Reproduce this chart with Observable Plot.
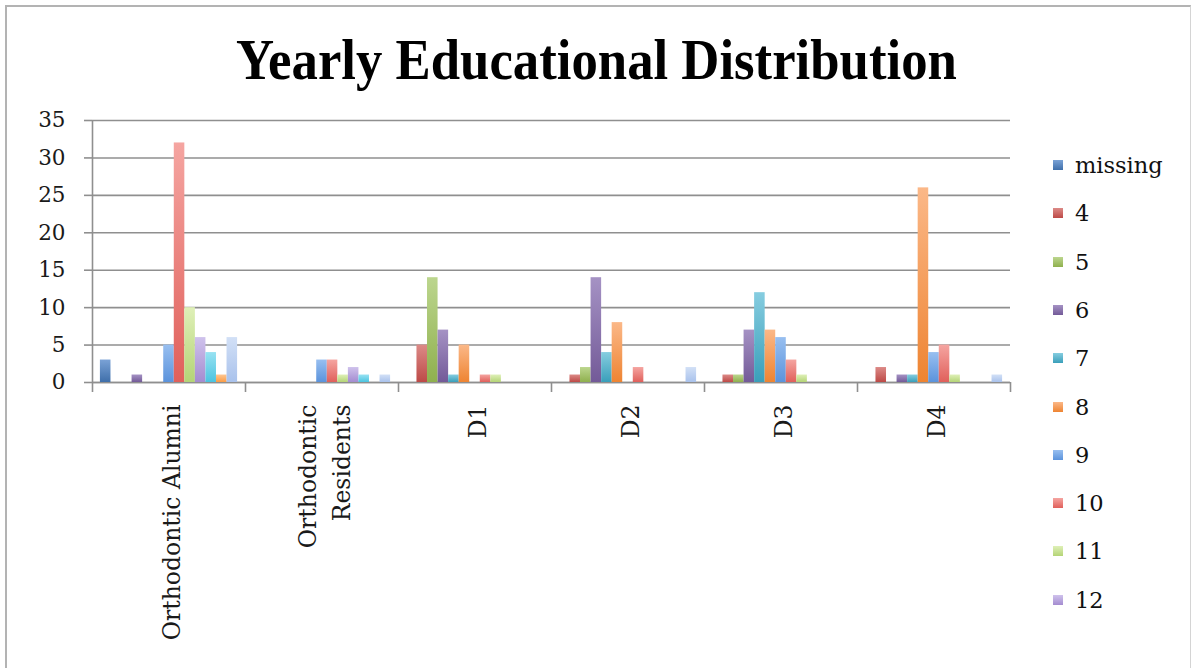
<!DOCTYPE html>
<html><head><meta charset="utf-8">
<script src="https://cdn.jsdelivr.net/npm/d3@7/dist/d3.min.js"></script>
<script src="https://cdn.jsdelivr.net/npm/@observablehq/plot@0.6/dist/plot.umd.min.js"></script>
<style>
html,body{margin:0;padding:0;background:#fff;}
#wrap{position:relative;width:1192px;height:668px;overflow:hidden;background:#fff;}
#border{position:absolute;left:5px;top:5px;width:1183px;height:700px;border-left:2px solid #b3b3b3;border-top:2px solid #b3b3b3;border-right:1px solid #d4d4d4;}
#title{position:absolute;top:31px;left:0;width:1192px;text-align:center;font-family:"Liberation Serif",serif;font-weight:bold;font-size:58px;line-height:1;color:#000;}
#title span{display:inline-block;transform-origin:center center;}
#chart{position:absolute;left:0;top:100px;}
#legend{position:absolute;left:0;top:0;font-family:"DejaVu Serif",serif;font-size:22.5px;color:#111;}
.item{position:absolute;left:1053px;height:30px;display:flex;align-items:center;white-space:nowrap;}
.sw{width:10px;height:10px;margin-right:12px;}
</style>
</head><body>
<div id="wrap">
  <div id="border"></div>
  <div id="title"><span></span></div>
  <div id="chart"></div>
  <div id="legend"></div>
</div>
<svg id="defs" width="0" height="0" style="position:absolute;left:0;top:0"><defs></defs></svg>
<script>
// ---- data ----
const titleText = "Yearly Educational Distribution";
const groups = ["Orthodontic Alumni", "Orthodontic Residents", "D1", "D2", "D3", "D4"];
const groupLabels = ["Orthodontic Alumni", "Orthodontic\nResidents", "D1", "D2", "D3", "D4"];
const series = ["missing", "4", "5", "6", "7", "8", "9", "10", "11", "12", "13", "14", "15"];
const legendSeries = ["missing", "4", "5", "6", "7", "8", "9", "10", "11", "12"];
const alumni    = [3, 0, 0, 1, 0, 0, 5, 32, 10, 6, 4, 1, 6];
const residents = [0, 0, 0, 0, 0, 0, 3, 3, 1, 2, 1, 0, 1];
const d1        = [0, 5, 14, 7, 1, 5, 0, 1, 1, 0, 0, 0, 0];
const d2        = [0, 1, 2, 14, 4, 8, 0, 2, 0, 0, 0, 0, 2];
const d3v       = [0, 1, 1, 7, 12, 7, 6, 3, 1, 0, 0, 0, 0];
const d4        = [0, 2, 0, 1, 1, 26, 4, 5, 1, 0, 0, 0, 1];
const yTicks = [0, 5, 10, 15, 20, 25, 30, 35];

// ---- style ----
const baseColors = ["#3f6faa", "#bd4a47", "#8fb04e", "#735a98", "#3a9fba", "#ee8432",
                    "#5b93dc", "#e0605b", "#b4d476", "#a48cd0", "#4cc4e0", "#fb9c46", "#a9c2ec"];
const topColors  = ["#7aa2d6", "#dc8a87", "#bcd68e", "#a592c4", "#86cde0", "#fbb888",
                    "#98bff0", "#f5a5a1", "#dff0b8", "#cfc2ec", "#98e2f2", "#ffc792", "#d2e0f6"];

const rows = [alumni, residents, d1, d2, d3v, d4];
const data = groups.flatMap((g, gi) => series.map((s, si) => ({group: g, series: s, value: rows[gi][si]})));

// gradients
const SVGNS = "http://www.w3.org/2000/svg";
const defs = document.querySelector("#defs defs");
series.forEach((s, i) => {
  const lg = document.createElementNS(SVGNS, "linearGradient");
  lg.setAttribute("id", "grad" + i);
  lg.setAttribute("x1", "0"); lg.setAttribute("y1", "0");
  lg.setAttribute("x2", "0"); lg.setAttribute("y2", "1");
  [["0%", topColors[i]], ["100%", baseColors[i]]].forEach(([o, c]) => {
    const st = document.createElementNS(SVGNS, "stop");
    st.setAttribute("offset", o); st.setAttribute("stop-color", c);
    lg.appendChild(st);
  });
  defs.appendChild(lg);
});

const W = 1192, H = 568, mL = 92, mR = 182, mT = 20, mB = 286;
const step = (W - mL - mR) / groups.length / (series.length + 1.5);
const edge = 1.25 * step;
const gray = "#8f8f8f";

const plot = Plot.plot({
  width: W, height: H,
  marginTop: mT, marginBottom: mB, marginLeft: mL, marginRight: mR,
  style: {fontFamily: "DejaVu Serif, serif", fontSize: "21.5px", color: "#1a1a1a", background: "transparent", overflow: "visible"},
  fx: {domain: groups, padding: 0, round: false, label: null},
  x: {domain: series, paddingInner: 0, paddingOuter: 0.75, round: false, axis: null},
  y: {domain: [0, 35], label: null},
  color: {domain: series, range: series.map((s, i) => `url(#grad${i})`)},
  marks: [
    Plot.gridY(yTicks, {stroke: gray, strokeOpacity: 1, strokeWidth: 1.6}),
    Plot.ruleY([0], {stroke: gray, strokeWidth: 1.6}),
    Plot.barY(data, {fx: "group", x: "series", y: "value", fill: "series"}),
    Plot.ruleX([groups[0]], {fx: d => d, x: () => series[0], dx: -edge, y1: 0, y2: 35, insetTop: 10, stroke: gray, strokeWidth: 1.6}),
    Plot.ruleX(groups.slice(1), {fx: d => d, x: () => series[0], dx: -edge, y1: 0, y2: 0, insetTop: 10, stroke: gray, strokeWidth: 1.6}),
    Plot.ruleX([groups[groups.length - 1]], {fx: d => d, x: () => series[series.length - 1], dx: edge, y1: 0, y2: 0, insetTop: 10, stroke: gray, strokeWidth: 1.6}),
    Plot.axisY(yTicks, {tickSize: 8, tickPadding: 19, stroke: gray, strokeWidth: 1.6, label: null}),
    Plot.axisFx({anchor: "bottom", tickSize: 0, tickPadding: 22, tickRotate: -90, label: null,
                 fontSize: 23.5, lineHeight: 1.45,
                 tickFormat: d => groupLabels[groups.indexOf(d)]})
  ]
});
document.getElementById("chart").appendChild(plot);

// legend
const legend = document.getElementById("legend");
legendSeries.forEach((s, i) => {
  const si = series.indexOf(s);
  const it = document.createElement("div");
  it.className = "item";
  it.style.top = (150 + i * 48.3) + "px";
  const sw = document.createElement("div");
  sw.className = "sw";
  sw.style.background = `linear-gradient(${topColors[si]}, ${baseColors[si]})`;
  const tx = document.createElement("span");
  tx.textContent = s;
  it.appendChild(sw); it.appendChild(tx);
  legend.appendChild(it);
});

// title
const span = document.querySelector("#title span");
span.textContent = titleText;
const w = span.getBoundingClientRect().width;
span.style.transform = `scaleX(${721 / w})`;
</script>
</body></html>
